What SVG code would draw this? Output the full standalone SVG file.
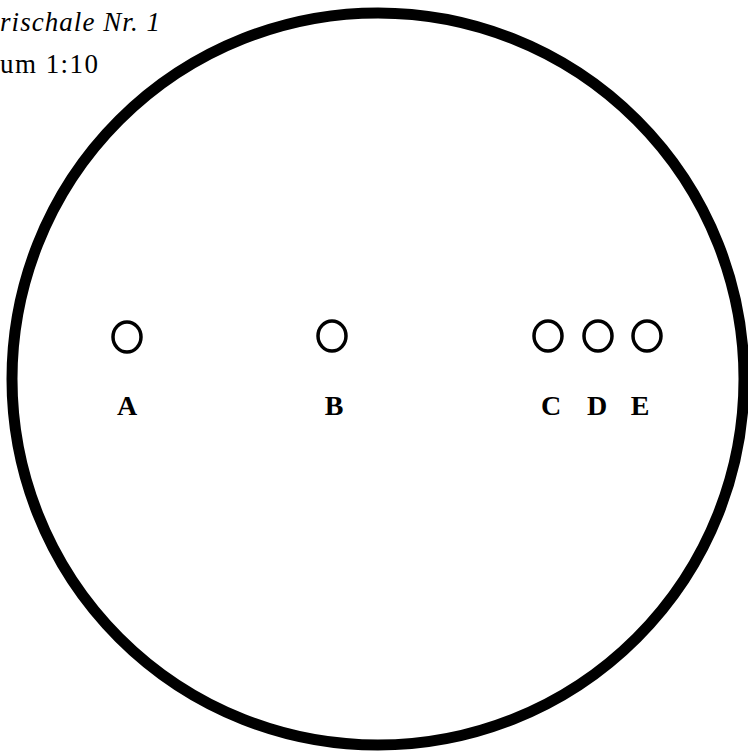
<svg xmlns="http://www.w3.org/2000/svg" width="748" height="752" viewBox="0 0 748 752">
<style>
.hole{fill:none;stroke:#000;stroke-width:3.5}
.lbl{font-family:"Liberation Serif","Times New Roman",serif;font-weight:bold;font-size:28px;text-anchor:middle;fill:#000}
.cap{font-family:"Liberation Serif","Times New Roman",serif;font-size:27px;fill:#000}
</style>
<rect width="748" height="752" fill="#fff"/>
<g id="caption">
<text class="cap" x="0" y="31" font-style="italic" textLength="160" lengthAdjust="spacing">rischale Nr. 1</text>
<text class="cap" x="0" y="73" textLength="98" lengthAdjust="spacing">um 1:10</text>
</g>
<g id="dish">
<circle cx="378" cy="379" r="366" fill="none" stroke="#000" stroke-width="11"/>
</g>
<g id="A"><ellipse class="hole" cx="127" cy="337" rx="14" ry="15"/><text class="lbl" x="127" y="415">A</text></g>
<g id="B"><ellipse class="hole" cx="332" cy="336" rx="14" ry="15"/><text class="lbl" x="334" y="415">B</text></g>
<g id="C"><ellipse class="hole" cx="548" cy="336" rx="14" ry="15"/><text class="lbl" x="551" y="415">C</text></g>
<g id="D"><ellipse class="hole" cx="598" cy="336" rx="14" ry="15"/><text class="lbl" x="597" y="415">D</text></g>
<g id="E"><ellipse class="hole" cx="647" cy="336" rx="14" ry="15"/><text class="lbl" x="640" y="415">E</text></g>
<g id="connectors"/>
</svg>
